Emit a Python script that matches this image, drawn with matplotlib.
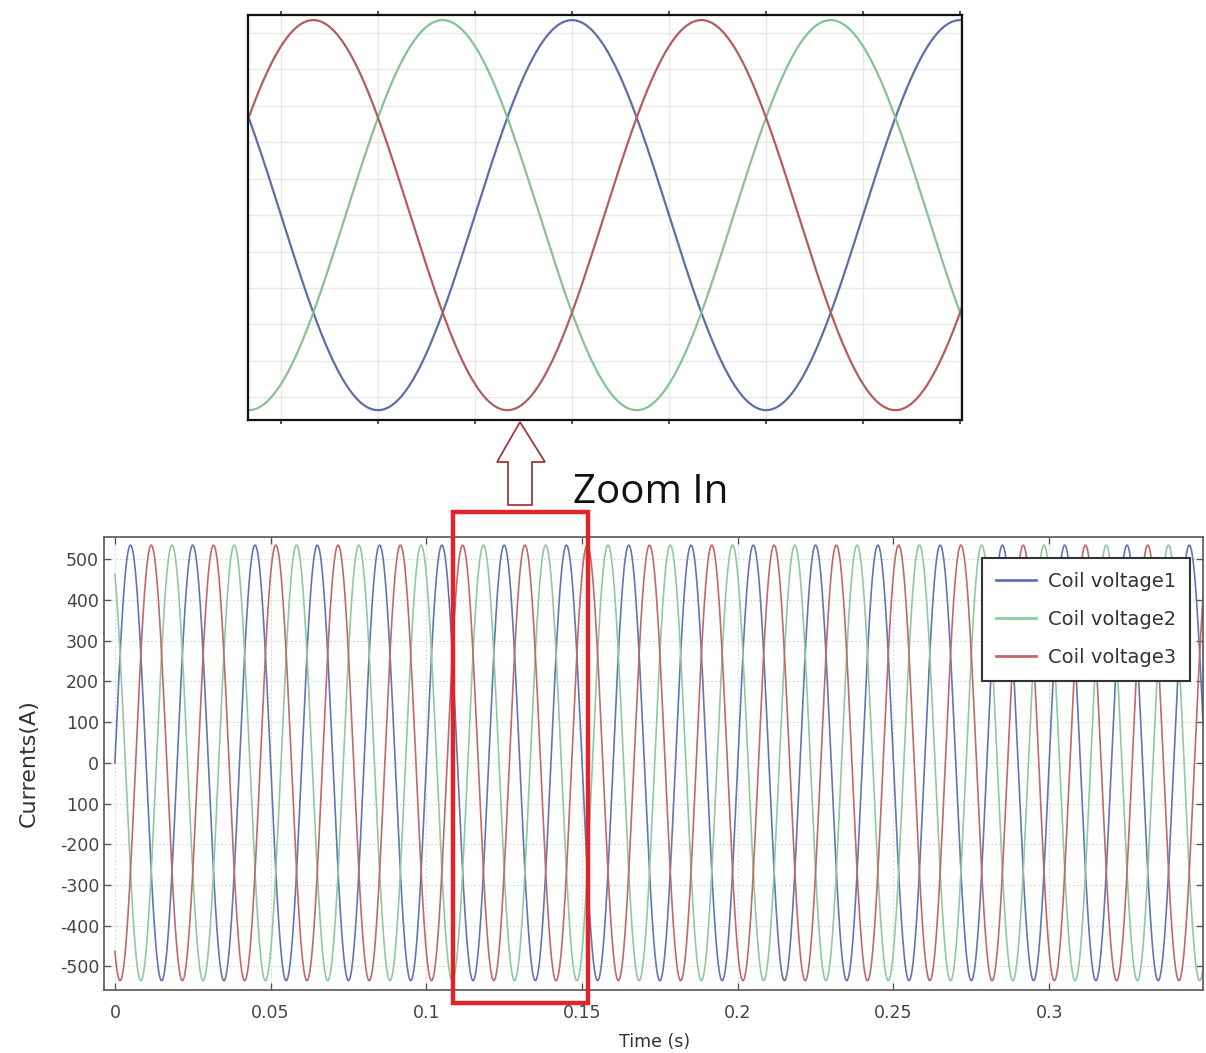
import numpy as np
import matplotlib
matplotlib.use("Agg")
import matplotlib.pyplot as plt
from matplotlib.patches import Polygon, Rectangle

# ---- data ----
series_names = ["Coil voltage1", "Coil voltage2", "Coil voltage3"]
series_colors = ["#6276b2", "#8dcb9e", "#c26868"]
zoom_colors = ["#5e6fa8", "#86c295", "#b45c5e"]
amplitude_A = 535.0            # peak current (A)
frequency_Hz = 50.0            # one period = 0.02 s
phase_deg = [0.0, 120.0, -120.0]   # coil 1, 2, 3
t_start, t_end = 0.0, 0.3495
n_samples = 6000

ytick_vals = [500, 400, 300, 200, 100, 0, -100, -200, -300, -400, -500]
ytick_labels = ["500", "400", "300", "200", "100", "0", "100", "-200", "-300", "-400", "-500"]
xtick_vals = [0, 0.05, 0.1, 0.15, 0.2, 0.25, 0.3]
xtick_labels = ["0", "0.05", "0.1", "0.15", "0.2", "0.25", "0.3"]

zoom_window = (0.1083, 0.1451)      # time range shown in the upper panel
box_window = (0.1085, 0.1519)       # red box on the main plot

t = np.linspace(t_start, t_end, n_samples)
currents = [amplitude_A * np.sin(2 * np.pi * frequency_Hz * t + np.deg2rad(p)) for p in phase_deg]

W, H = 1206, 1053
fig = plt.figure(figsize=(W / 100, H / 100), dpi=100)
fig.patch.set_facecolor("white")

def fx(px):
    return px / W

def fy(py):
    return 1 - py / H

# ---- main axes ----
ax = fig.add_axes([fx(104), fy(990), fx(1203) - fx(104), fy(537) - fy(990)])
for y, c, name in zip(currents, series_colors, series_names):
    ax.plot(t, y, color=c, lw=1.2, label=name)
ax.set_xlim(-0.0035, 0.3494)
ax.set_ylim(-558, 555)
ax.set_yticks(ytick_vals)
ax.set_yticklabels(ytick_labels)
ax.set_xticks(xtick_vals)
ax.set_xticklabels(xtick_labels)
ax.tick_params(direction="in", length=5, width=1, colors="#555555", labelcolor="#444444",
               labelsize=12.5, top=True, right=True)
ax.tick_params(axis="x", pad=10)
ax.grid(True, color="#d8d8d8", lw=0.7, ls=(0, (2, 2)))
for s in ax.spines.values():
    s.set_color("#555555")
    s.set_linewidth(1.2)
ax.set_ylabel("Currents(A)", fontsize=16, color="#333333")
ax.yaxis.set_label_coords((39 - 104) / (1203 - 104), 0.5)
ax.set_xlabel("Time (s)", fontsize=12.5, color="#333333", labelpad=2)
ax.xaxis.set_label_coords((655 - 104) / (1203 - 104), -0.095)
leg = ax.legend(loc="upper right", bbox_to_anchor=((1190 - 104) / (1203 - 104), (990 - 558) / (990 - 537)),
                prop={"family": "DejaVu Sans", "size": 14},
                frameon=True, fancybox=False, framealpha=1,
                edgecolor="#333333", handlelength=2.05, borderpad=0.72, labelspacing=0.98,
                handletextpad=0.62, borderaxespad=0)
leg.get_frame().set_linewidth(1.5)
for txt in leg.get_texts():
    txt.set_color("#333333")
for line in leg.get_lines():
    line.set_linewidth(2)

# red box marking the zoom window
ax.add_patch(Rectangle((box_window[0], -590), box_window[1] - box_window[0], 1207,
                       fill=False, edgecolor="#e0242a", lw=3.2, clip_on=False, zorder=5))

# ---- zoomed panel ----
axz = fig.add_axes([fx(248), fy(420), fx(962) - fx(248), fy(15) - fy(420)])
mask = (t >= zoom_window[0] - 0.001) & (t <= zoom_window[1] + 0.001)
for y, c in zip(currents, zoom_colors):
    axz.plot(t[mask], y[mask], color=c, lw=1.6)
axz.set_xlim(*zoom_window)
axz.set_ylim(-562, 549)
axz.set_xticks(np.arange(0.110, 0.1451, 0.005))
axz.set_yticks(np.arange(-500, 501, 100))
axz.set_xticklabels([])
axz.set_yticklabels([])
axz.tick_params(axis="x", direction="out", length=3, width=1.2, colors="#333333", top=True)
axz.tick_params(axis="y", length=0)
axz.grid(True, color="#e8e8e8", lw=1.0)
for s in axz.spines.values():
    s.set_color("#111111")
    s.set_linewidth(1.6)

# ---- hollow arrow and caption ----
arrow_px = [(520, 422), (545, 462), (532, 462), (532, 505), (508, 505), (508, 462), (497, 462)]
fig.patches.append(Polygon([(fx(x), fy(y)) for x, y in arrow_px], closed=True,
                           transform=fig.transFigure, facecolor="white",
                           edgecolor="#a3393c", lw=1.3))
fig.text(fx(573), fy(493), "Zoom In", fontsize=29, family="Open Sans", color="#111111",
         va="center", ha="left")

fig.savefig("out.png", dpi=100, facecolor="white")
